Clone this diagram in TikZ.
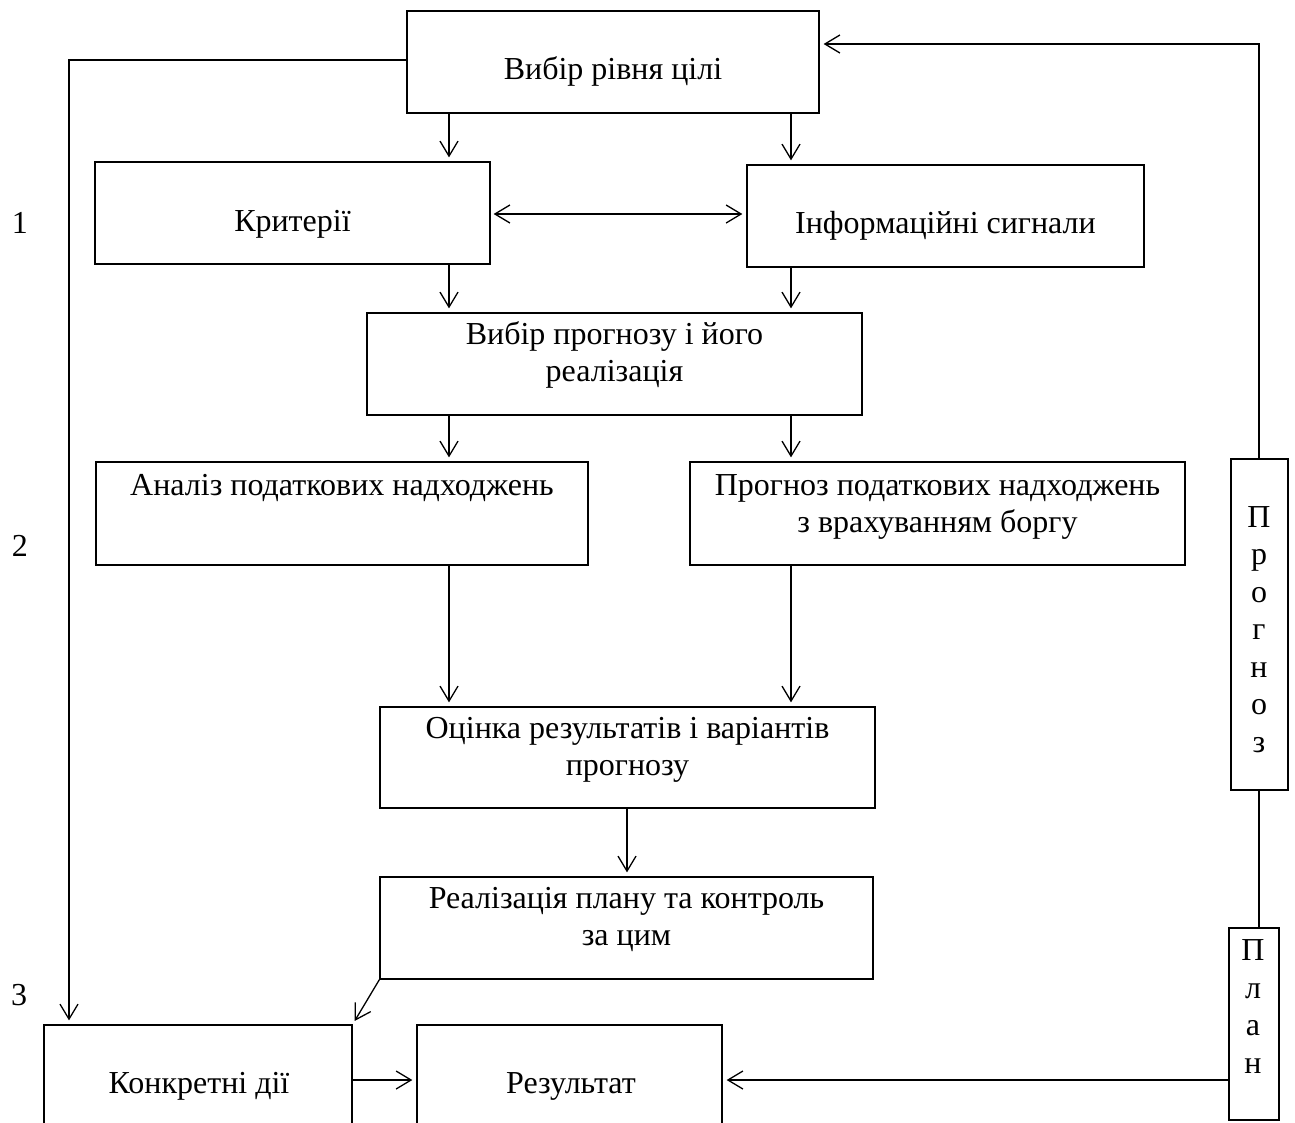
\documentclass[tikz,border=0pt]{standalone}
\usepackage{fontspec}
\setmainfont{Liberation Serif}
\usetikzlibrary{arrows.meta}
\begin{document}
\begin{tikzpicture}[x=1pt,y=-1pt,
  box/.style={draw, line width=1.3pt, inner sep=0pt},
  txt/.style={font=\fontsize{32}{37}\selectfont, inner sep=0pt, anchor=base, align=center},
  vtxt/.style={font=\fontsize{32}{37.5}\selectfont, inner sep=0pt, anchor=base, align=center},
  conn/.style={line width=1.3pt},
  arr/.style={line width=1.3pt, -{Straight Barb[length=15pt,width=18pt,line width=1.3pt]}, shorten >=4pt},
  darr/.style={line width=1.3pt, {Straight Barb[length=15pt,width=18pt,line width=1.3pt]}-{Straight Barb[length=15pt,width=18pt,line width=1.3pt]}, shorten >=4pt, shorten <=3pt}]
\useasboundingbox (0,0) rectangle (1295,1122);
\fill[white] (0,0) rectangle (1295,1122);

% boxes
\node[box, minimum width=412pt, minimum height=102pt] (A) at (613,62) {};
\node[box, minimum width=395pt, minimum height=102pt] (K) at (292.5,213) {};
\node[box, minimum width=397pt, minimum height=102pt] (I) at (945.5,216) {};
\node[box, minimum width=495pt, minimum height=102pt] (V) at (614.5,364) {};
\node[box, minimum width=492pt, minimum height=103pt] (An) at (342,513.5) {};
\node[box, minimum width=495pt, minimum height=103pt] (P) at (937.5,513.5) {};
\node[box, minimum width=495pt, minimum height=101pt] (O) at (627.5,757.5) {};
\node[box, minimum width=493pt, minimum height=102pt] (R) at (626.5,928) {};
\node[box, minimum width=308pt, minimum height=130pt] (Kd) at (198,1090) {};
\node[box, minimum width=305pt, minimum height=130pt] (Rs) at (569.5,1090) {};
\node[box, minimum width=57pt, minimum height=331pt] (Pg) at (1259.5,624.5) {};
\node[box, minimum width=50pt, minimum height=192pt] (Pl) at (1254,1024) {};

% texts (multi-line nodes are anchored on the baseline of their last line)
\node[txt] (tA) at (613,79) {Вибір рівня цілі};
\node[txt] (tK) at (292.5,231) {Критерії};
\node[txt] (tI) at (945.5,233) {Інформаційні сигнали};
\node[txt] (tV) at (614.5,381) {Вибір прогнозу і його\\реалізація};
\node[txt] (tAn) at (342,495) {Аналіз податкових надходжень};
\node[txt] (tP) at (937.5,532) {Прогноз податкових надходжень\\з врахуванням боргу};
\node[txt] (tO) at (627.5,775) {Оцінка результатів і варіантів\\прогнозу};
\node[txt] (tR) at (626.5,945) {Реалізація плану та контроль\\за цим};
\node[txt] (tKd) at (199,1093) {Конкретні дії};
\node[txt] (tRs) at (571,1093) {Результат};
\node[vtxt] (tPg) at (1259,752) {П\\р\\о\\г\\н\\о\\з};
\node[vtxt] (tPl) at (1253,1073) {П\\л\\а\\н};
\node[txt] (n1) at (20,233) {1};
\node[txt] (n2) at (20,556) {2};
\node[txt] (n3) at (19,1005) {3};

% helper coordinates
\coordinate (cL) at (449,0);
\coordinate (cR) at (791,0);
\coordinate (cM) at (627,0);
\coordinate (cLeft) at (69,0);
\coordinate (cRight) at (1259,0);
\coordinate (rTop) at (0,44);
\coordinate (rA) at (0,60);
\coordinate (rK) at (0,214);
\coordinate (rBot) at (0,1080);

% connectors
\draw[arr] (A.south -| cL) -- (K.north -| cL);
\draw[arr] (A.south -| cR) -- (I.north -| cR);
\draw[darr] (K.east |- rK) -- (I.west |- rK);
\draw[arr] (K.south -| cL) -- (V.north -| cL);
\draw[arr] (I.south -| cR) -- (V.north -| cR);
\draw[arr] (V.south -| cL) -- (An.north -| cL);
\draw[arr] (V.south -| cR) -- (P.north -| cR);
\draw[arr] (An.south -| cL) -- (O.north -| cL);
\draw[arr] (P.south -| cR) -- (O.north -| cR);
\draw[arr] (O.south -| cM) -- (R.north -| cM);
\draw[arr] (R.south west) -- (Kd.north east);
\draw[arr] (A.west |- rA) -- (cLeft |- rA) -- (Kd.north -| cLeft);
\draw[arr] (Kd.east |- rBot) -- (Rs.west |- rBot);
\draw[arr] (Pl.west |- rBot) -- (Rs.east |- rBot);
\draw[arr] (Pg.north -| cRight) -- (cRight |- rTop) -- (A.east |- rTop);
\draw[conn] (Pg.south -| cRight) -- (Pl.north -| cRight);
\end{tikzpicture}
\end{document}
